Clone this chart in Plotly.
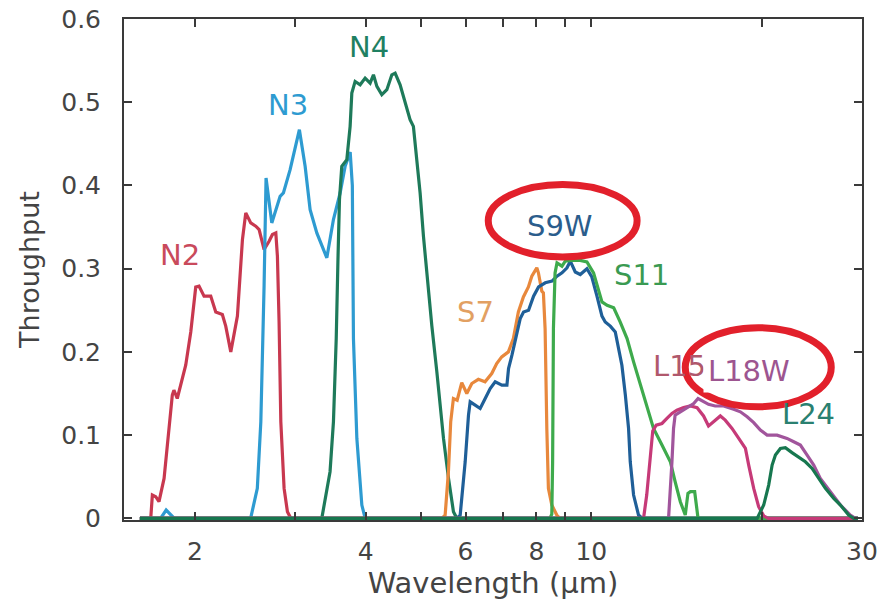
import math
import plotly.graph_objects as go

# ---------------- data ----------------
n2_wl = [1.60, 1.66, 1.672, 1.683, 1.706, 1.729, 1.765, 1.825, 1.837, 1.862, 1.927, 1.967, 2.007, 2.034,
         2.076, 2.133, 2.177, 2.236, 2.267, 2.314, 2.377, 2.426, 2.459, 2.509, 2.561, 2.596, 2.649, 2.703,
         2.740, 2.778, 2.796, 2.815, 2.835, 2.873, 2.912, 2.953, 3.0, 29.5]
n2_tp = [0, 0, 0.0, 0.028, 0.026, 0.020, 0.048, 0.148, 0.154, 0.144, 0.184, 0.224, 0.278, 0.279,
         0.267, 0.267, 0.248, 0.245, 0.231, 0.200, 0.243, 0.335, 0.367, 0.355, 0.351, 0.347, 0.323, 0.333,
         0.341, 0.343, 0.315, 0.236, 0.116, 0.036, 0.008, 0, 0, 0]

n3_wl = [1.60, 1.74, 1.78, 1.84, 2.45, 2.508, 2.577, 2.614, 2.649, 2.670, 2.733, 2.827, 2.865, 2.944,
         3.057, 3.129, 3.193, 3.281, 3.417, 3.510, 3.607, 3.681, 3.757, 3.790, 3.807, 3.860, 3.939, 3.993, 29.5]
n3_tp = [0, 0, 0.010, 0, 0, 0, 0.036, 0.116, 0.280, 0.409, 0.355, 0.387, 0.391, 0.419,
         0.467, 0.423, 0.371, 0.343, 0.313, 0.359, 0.391, 0.423, 0.440, 0.400, 0.216, 0.096, 0.016, 0, 0]

n4_wl = [1.60, 3.30, 3.348, 3.462, 3.510, 3.534, 3.550, 3.575, 3.597, 3.631, 3.706, 3.756, 3.782, 3.833,
         3.912, 3.992, 4.074, 4.129, 4.187, 4.272, 4.360, 4.449, 4.509, 4.601, 4.696, 4.791, 4.856, 4.923,
         4.990, 5.058, 5.129, 5.234, 5.341, 5.487, 5.600, 5.713, 5.793, 29.5]
n4_tp = [0, 0, 0, 0.056, 0.116, 0.176, 0.216, 0.311, 0.383, 0.423, 0.431, 0.471, 0.511, 0.525,
         0.521, 0.529, 0.523, 0.533, 0.519, 0.509, 0.515, 0.533, 0.535, 0.521, 0.499, 0.479, 0.471, 0.435,
         0.391, 0.339, 0.291, 0.231, 0.176, 0.096, 0.048, 0.008, 0, 0]

s7_wl = [1.60, 5.45, 5.524, 5.598, 5.650, 5.712, 5.800, 5.909, 6.031, 6.155, 6.321, 6.495, 6.674, 6.810,
         6.950, 7.140, 7.286, 7.436, 7.589, 7.745, 7.853, 8.014, 8.066, 8.178, 8.231, 8.288, 8.346, 8.400,
         8.517, 8.690, 8.80, 29.5]
s7_tp = [0, 0, 0.004, 0.056, 0.116, 0.144, 0.142, 0.163, 0.150, 0.162, 0.167, 0.164, 0.174, 0.186,
         0.194, 0.200, 0.216, 0.248, 0.266, 0.278, 0.291, 0.301, 0.295, 0.273, 0.271, 0.228, 0.108, 0.036,
         0.016, 0.004, 0, 0]

s9w_wl = [1.60, 5.75, 5.793, 5.872, 5.992, 6.073, 6.115, 6.240, 6.368, 6.499, 6.632, 6.768, 6.955, 7.098,
          7.145, 7.244, 7.342, 7.492, 7.594, 7.750, 7.909, 8.071, 8.293, 8.523, 8.698, 8.876, 9.058, 9.181,
          9.368, 9.559, 9.822, 10.02, 10.23, 10.44, 10.58, 10.80, 11.02, 11.17, 11.32, 11.48, 11.63, 11.71,
          11.87, 12.11, 12.30, 29.5]
s9w_tp = [0, 0, 0, 0.004, 0.068, 0.124, 0.140, 0.136, 0.132, 0.144, 0.156, 0.164, 0.160, 0.160,
          0.180, 0.196, 0.214, 0.240, 0.248, 0.250, 0.267, 0.278, 0.283, 0.285, 0.291, 0.295, 0.301, 0.309,
          0.296, 0.293, 0.300, 0.290, 0.267, 0.243, 0.236, 0.231, 0.224, 0.204, 0.184, 0.148, 0.108, 0.068,
          0.028, 0.004, 0, 0]

s11_wl = [1.60, 8.45, 8.517, 8.545, 8.573, 8.630, 8.698, 8.876, 8.995, 9.181, 9.559, 9.822, 10.09, 10.23,
          10.44, 10.66, 10.95, 11.24, 11.56, 11.87, 12.36, 12.87, 13.32, 13.78, 14.05, 14.35, 14.64, 14.80,
          14.95, 15.21, 15.42, 29.5]
s11_tp = [0, 0, 0.005, 0.068, 0.228, 0.295, 0.307, 0.303, 0.309, 0.310, 0.310, 0.308, 0.295, 0.280,
          0.260, 0.256, 0.253, 0.236, 0.216, 0.188, 0.148, 0.108, 0.088, 0.068, 0.044, 0.020, 0.004, 0.030,
          0.032, 0.032, 0, 0]

l15_wl = [1.60, 12.30, 12.36, 12.52, 12.70, 12.83, 13.01, 13.32, 13.59, 13.87, 14.15, 14.54, 14.95, 15.36,
          15.77, 16.09, 16.42, 16.88, 17.22, 17.70, 18.19, 18.69, 18.94, 19.33, 19.72, 20.13, 20.50, 29.5]
l15_tp = [0, 0, 0, 0.028, 0.068, 0.105, 0.112, 0.114, 0.120, 0.126, 0.130, 0.133, 0.135, 0.133,
          0.123, 0.111, 0.116, 0.123, 0.118, 0.108, 0.096, 0.084, 0.064, 0.036, 0.014, 0.003, 0, 0]

l18w_wl = [1.60, 13.60, 13.68, 13.87, 13.96, 14.05, 14.35, 14.74, 15.15, 15.42, 15.77, 16.09, 16.53, 17.11,
           17.82, 18.31, 18.82, 19.33, 19.86, 20.41, 21.25, 22.13, 22.74, 23.36, 24.01, 24.66, 25.33, 26.38,
           27.48, 28.61, 29.20, 29.5]
l18w_tp = [0, 0, 0, 0.068, 0.108, 0.124, 0.128, 0.133, 0.138, 0.144, 0.140, 0.137, 0.135, 0.135,
           0.131, 0.128, 0.122, 0.115, 0.106, 0.100, 0.100, 0.096, 0.092, 0.088, 0.076, 0.064, 0.048, 0.032,
           0.016, 0.004, 0, 0]

l24_wl = [1.60, 19.50, 19.60, 20.13, 20.54, 20.83, 21.11, 21.54, 21.98, 22.58, 23.20, 23.84, 24.50, 25.17,
          25.86, 26.75, 27.48, 28.42, 29.01, 29.5]
l24_tp = [0, 0, 0, 0.016, 0.040, 0.064, 0.076, 0.084, 0.085, 0.079, 0.074, 0.068, 0.060, 0.048,
          0.036, 0.024, 0.016, 0.004, 0, 0]

filter_names = ["N2", "N3", "N4", "S7", "S9W", "S11", "L15", "L18W", "L24"]
filter_wl = [n2_wl, n3_wl, n4_wl, s7_wl, s9w_wl, s11_wl, l15_wl, l18w_wl, l24_wl]
filter_tp = [n2_tp, n3_tp, n4_tp, s7_tp, s9w_tp, s11_tp, l15_tp, l18w_tp, l24_tp]
line_colors = ["#c8384f", "#2e9bd1", "#1e7a5a", "#e8883c", "#1f5f98", "#3eaa4c", "#c63a78", "#a1559c", "#17774f"]

label_text = ["N2", "N3", "N4", "S7", "S9W", "S11", "L15", "L18W", "L24"]
label_x = [1.88, 2.92, 4.06, 6.26, 8.81, 12.24, 14.30, 18.98, 24.13]
label_y = [0.316, 0.497, 0.566, 0.248, 0.351, 0.292, 0.183, 0.177, 0.125]
label_colors = ["#c94a5c", "#2e9bd1", "#1f8062", "#e2a062", "#2b5d8c", "#3a9a52", "#b0586c", "#9d5590", "#2a8070"]

# highlighted labels (ellipse extents in data units)
ellipse_x0 = [6.58, 14.64]
ellipse_x1 = [12.04, 26.48]
ellipse_y0 = [0.314, 0.134]
ellipse_y1 = [0.401, 0.229]

x_tickvals = [2, 3, 4, 5, 6, 7, 8, 9, 10, 20, 30]
x_ticktext = ["2", "", "4", "", "6", "", "8", "", "10", "", "30"]
y_tickvals = [0, 0.1, 0.2, 0.3, 0.4, 0.5, 0.6]
y_ticktext = ["0", "0.1", "0.2", "0.3", "0.4", "0.5", "0.6"]

FONT = "DejaVu Sans"

fig = go.Figure()
for name, wl, tp, col in zip(filter_names, filter_wl, filter_tp, line_colors):
    fig.add_trace(go.Scatter(x=wl, y=tp, mode="lines", name=name,
                             line=dict(color=col, width=3.2), showlegend=False))

annotations = []
for t, xv, yv, c in zip(label_text, label_x, label_y, label_colors):
    ann = dict(x=math.log10(xv), y=yv, xref="x", yref="y", text=t, showarrow=False,
               font=dict(family=FONT, size=29, color=c))
    if t == "L18W":
        ann["bgcolor"] = "rgba(255,255,255,1)"
        ann["borderpad"] = 4
    annotations.append(ann)

shapes = []
for a, b, c, d in zip(ellipse_x0, ellipse_x1, ellipse_y0, ellipse_y1):
    shapes.append(dict(type="circle", xref="x", yref="y", x0=a, x1=b, y0=c, y1=d,
                       line=dict(color="#e2202b", width=7), layer="above"))

axis_common = dict(showline=True, linecolor="#3a3a3a", linewidth=2, mirror="ticks",
                   ticks="inside", ticklen=8, tickwidth=1.5, tickcolor="#3a3a3a",
                   showgrid=False, zeroline=False, automargin=False, ticklabeloverflow="allow")

fig.update_layout(
    width=882, height=608,
    margin=dict(l=124, r=20, t=19, b=88),
    paper_bgcolor="white", plot_bgcolor="white",
    font=dict(family=FONT, color="#444444"),
    xaxis=dict(type="log", range=[math.log10(1.5), math.log10(30)],
               tickvals=x_tickvals, ticktext=x_ticktext,
               tickfont=dict(size=25, color="#444444"), ticklabelstandoff=8,
               title=dict(text="Wavelength (\u03bcm)", font=dict(size=29, color="#444444"), standoff=4),
               **axis_common),
    yaxis=dict(range=[-0.002, 0.6], tickvals=y_tickvals, ticktext=y_ticktext,
               tickfont=dict(size=25, color="#444444"), ticklabelstandoff=16,
               title=dict(text="Throughput", font=dict(size=27, color="#444444"), standoff=14),
               **axis_common),
    annotations=annotations,
    shapes=shapes,
)

# remove the browser's default 8px body margin so the figure fills the window exactly
fig.write_html("out.html", config={"displayModeBar": False},
               post_script="document.body.style.margin='0';document.documentElement.style.overflow='hidden';")
